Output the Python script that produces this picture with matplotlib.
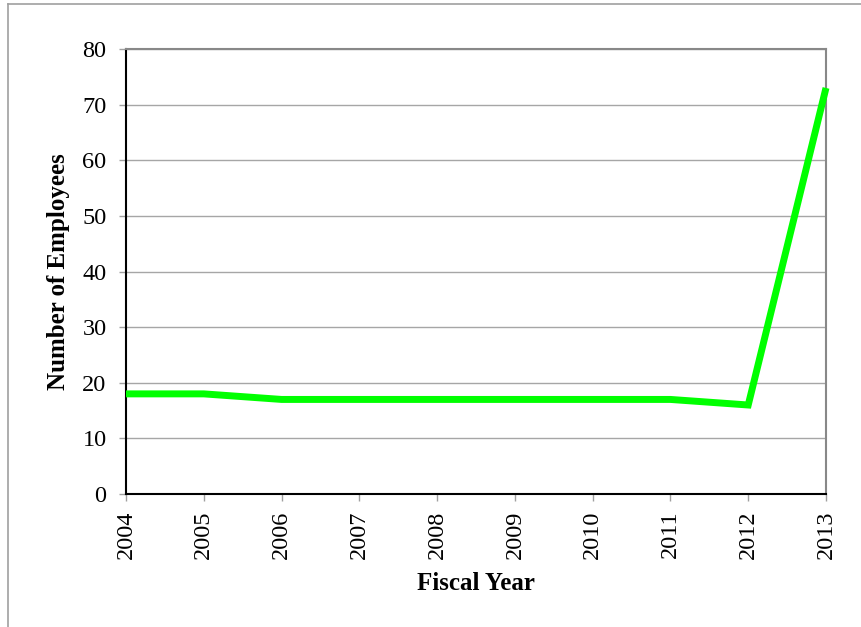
import matplotlib
matplotlib.use("Agg")
import matplotlib.pyplot as plt
from matplotlib.lines import Line2D

years = ["2004", "2005", "2006", "2007", "2008", "2009", "2010", "2011", "2012", "2013"]
employees = [18, 18, 17, 17, 17, 17, 17, 17, 16, 73]
y_ticks = [0, 10, 20, 30, 40, 50, 60, 70, 80]

plt.rcParams["font.family"] = ["Liberation Serif", "DejaVu Serif"]

fig = plt.figure(figsize=(8.62, 6.27), dpi=100)
ax = fig.add_axes([126 / 862, 1 - 494 / 627, 700 / 862, 445 / 627])

x = list(range(len(years)))
ax.plot(x, employees, color="#00ff00", linewidth=5, solid_joinstyle="miter",
        solid_capstyle="butt", zorder=3, clip_on=False)

ax.set_xlim(0, len(years) - 1)
ax.set_ylim(0, 80)
ax.set_xticks(x)
ax.set_xticklabels(years, rotation=90, fontsize=17.5)
ax.set_yticks(y_ticks)
ax.set_yticklabels([str(v) for v in y_ticks], fontsize=17.5)
ax.yaxis.grid(True, color="#a6a6a6", linewidth=1)
ax.set_axisbelow(True)

ax.tick_params(axis="both", direction="out", length=5, width=1, color="#a0a0a0")
ax.tick_params(axis="y", pad=9)
ax.tick_params(axis="x", pad=7)

for side in ("top", "right"):
    ax.spines[side].set_color("#888888")
    ax.spines[side].set_linewidth(1.5)
for side in ("left", "bottom"):
    ax.spines[side].set_color("black")
    ax.spines[side].set_linewidth(1.5)

ax.set_xlabel("Fiscal Year", fontsize=18, fontweight="bold", labelpad=9)
ax.set_ylabel("Number of Employees", fontsize=18, fontweight="bold", labelpad=9)

# partial outer frame of the chart area
fig.add_artist(Line2D([8 / 862, 1], [1 - 4 / 627, 1 - 4 / 627], color="#a0a0a0", linewidth=1.2,
                      transform=fig.transFigure))
fig.add_artist(Line2D([8 / 862, 8 / 862], [0, 1 - 4 / 627], color="#a0a0a0", linewidth=1.2,
                      transform=fig.transFigure))

fig.savefig("out.png", dpi=100)
